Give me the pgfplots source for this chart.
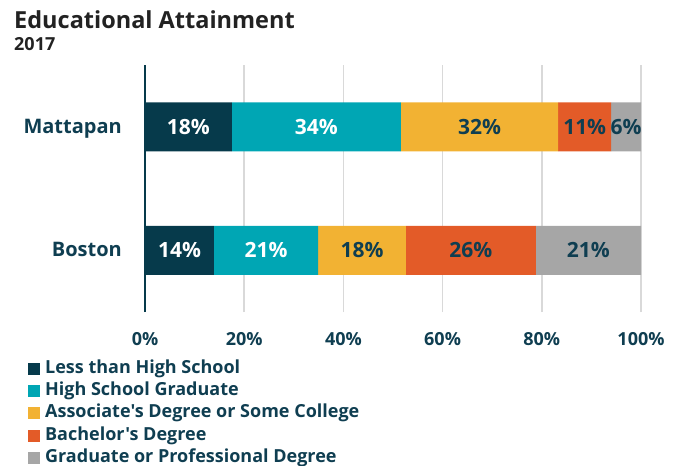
\documentclass[border=0pt]{standalone}
\usepackage{fontspec}
\setmainfont{Open Sans}
\newfontfamily\osf{Open Sans}
\usepackage{pgfplots}
\usepackage{pgfplotstable}
\pgfplotsset{compat=1.18}
\definecolor{navy}{HTML}{063A4B}
\definecolor{navytxt}{HTML}{0F3E51}
\definecolor{cteal}{HTML}{00A6B4}
\definecolor{cyellow}{HTML}{F2B233}
\definecolor{corange}{HTML}{E35B28}
\definecolor{cgray}{HTML}{A6A6A6}
\definecolor{gridc}{HTML}{D9D9D9}
\definecolor{titlec}{HTML}{222222}

\pgfplotstableread{
y x lab
0 13.9 14
1 17.5 18
}\lessHS
\pgfplotstableread{
y x lab
0 21.0 21
1 34.1 34
}\hsGrad
\pgfplotstableread{
y x lab
0 17.7 18
1 31.7 32
}\assoc
\pgfplotstableread{
y x lab
0 26.2 26
1 10.7 11
}\bach
\pgfplotstableread{
y x lab
0 21.2 21
1 6.0 6
}\grad

\begin{document}
\begin{tikzpicture}
\useasboundingbox (0pt,0pt) rectangle (683pt,-466pt);
\node[anchor=base west, inner sep=0pt, font=\fontsize{23.5}{27}\selectfont\bfseries, text=titlec] at (14pt,-28pt) {Educational Attainment};
\node[anchor=base west, inner sep=0pt, font=\fontsize{18}{22}\selectfont\bfseries, text=titlec] at (14pt,-50pt) {2017};
\begin{axis}[
  at={(145pt,-312pt)}, anchor=south west,
  scale only axis, width=496pt, height=247pt,
  xbar stacked, bar width=49pt,
  xmin=0, xmax=100, ymin=-0.5, ymax=1.5,
  xtick={0,20,40,60,80,100},
  xticklabel={\pgfmathprintnumber{\tick}\%},
  ytick={0,1}, yticklabels={Boston,Mattapan},
  major tick length=0pt,
  axis line style={draw=none},
  xmajorgrids, grid style={gridc, line width=1.5pt},
  extra x ticks={0}, extra x tick labels={},
  extra x tick style={grid style={navy, line width=2pt}},
  /pgf/number format/assume math mode=true,
  xticklabel style={font=\fontsize{18}{22}\selectfont\bfseries, text=navytxt, inner sep=0pt, anchor=base, yshift=-33pt},
  yticklabel style={font=\fontsize{20}{24}\selectfont\bfseries, text=navytxt, inner sep=0pt, anchor=base east, xshift=-23pt, yshift=-6.5pt},
  point meta=explicit symbolic,
  nodes near coords={\pgfplotspointmeta\%},
  every node near coord/.append style={font=\fontsize{21}{25}\selectfont\bfseries},
  legend cell align=left,
  legend style={at={(-0.236,-0.194)}, anchor=north west, draw=none, fill=none, inner sep=0pt,
    font=\osf\fontsize{18}{22}\selectfont\bfseries, text=navytxt,
    nodes={inner sep=0pt, text height=13pt, text depth=4pt},
    row sep=5.3pt,
    /tikz/every odd column/.append style={column sep=5pt}},
  legend image code/.code={\fill[#1] (0pt,-6pt) rectangle (12pt,6pt);},
]
\addplot[fill=navy, draw=none, nodes near coords style={text=white}] table[x=x,y=y,meta=lab] {\lessHS};
\addplot[fill=cteal, draw=none, nodes near coords style={text=white}] table[x=x,y=y,meta=lab] {\hsGrad};
\addplot[fill=cyellow, draw=none, nodes near coords style={text=navytxt}] table[x=x,y=y,meta=lab] {\assoc};
\addplot[fill=corange, draw=none, nodes near coords style={text=navytxt}] table[x=x,y=y,meta=lab] {\bach};
\addplot[fill=cgray, draw=none, nodes near coords style={text=navytxt}] table[x=x,y=y,meta=lab] {\grad};
\legend{Less than High School, High School Graduate, Associate's Degree or Some College, Bachelor's Degree, Graduate or Professional Degree}
\end{axis}
\end{tikzpicture}
\end{document}
